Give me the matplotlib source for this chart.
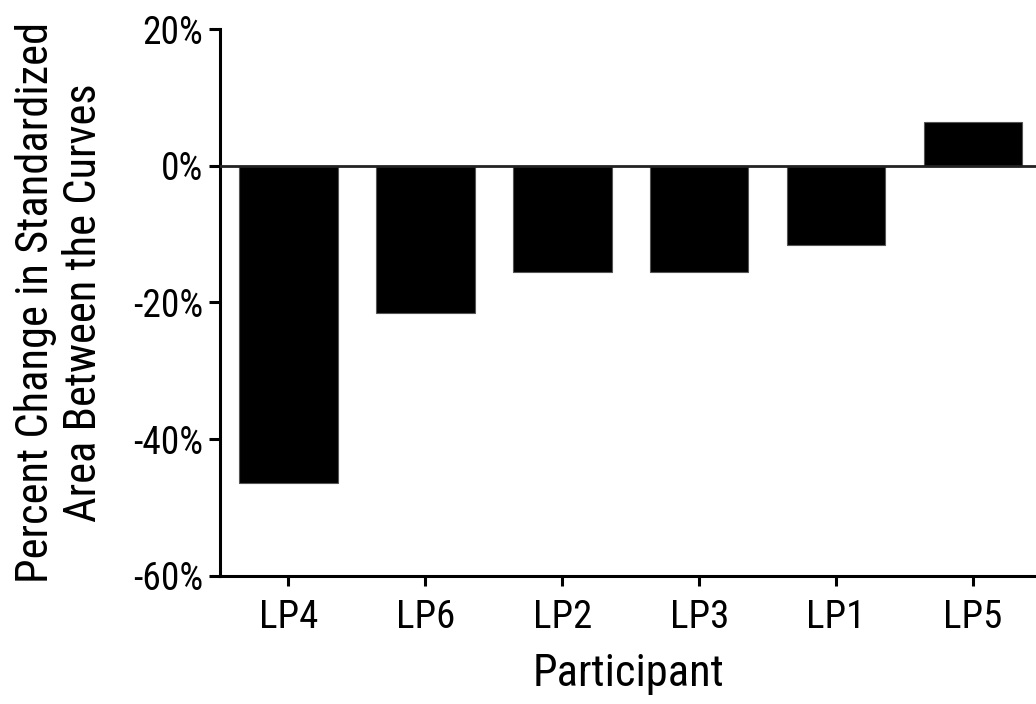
import matplotlib
matplotlib.use("Agg")
import matplotlib.pyplot as plt
from matplotlib.ticker import FuncFormatter

participants = ["LP4", "LP6", "LP2", "LP3", "LP1", "LP5"]
pct_change = [-46.5, -21.5, -15.5, -15.5, -11.6, 6.4]
y_ticks = [-60, -40, -20, 0, 20]

plt.rcParams["font.family"] = ["Roboto Condensed", "Archivo Narrow", "DejaVu Sans"]

fig = plt.figure(figsize=(10.36, 7.04), dpi=100)
ax = fig.add_axes([0.2124, 0.1822, 0.7876, 0.7766])

x = list(range(len(participants)))
ax.bar(x, pct_change, width=0.72, color="black", edgecolor="#555555", linewidth=0.8, zorder=2)
ax.axhline(0, color="#222222", linewidth=2.0, zorder=3)

ax.set_xlim(-0.5, 5.46)
ax.set_ylim(-60, 20)
ax.set_yticks(y_ticks)
ax.yaxis.set_major_formatter(FuncFormatter(lambda v, p: f"{v:.0f}%"))
ax.set_xticks(x)
ax.set_xticklabels(participants)

for side in ("top", "right"):
    ax.spines[side].set_visible(False)
for side in ("left", "bottom"):
    ax.spines[side].set_linewidth(2.2)
    ax.spines[side].set_color("black")

ax.tick_params(axis="y", length=8, width=2.2, labelsize=27, pad=4)
ax.tick_params(axis="x", length=7, width=2.2, labelsize=28, pad=10)

ax.set_xlabel("Participant", fontsize=32, labelpad=12)
ax.set_ylabel("Percent Change in Standardized\nArea Between the Curves", fontsize=32,
              labelpad=20, linespacing=1.2)

fig.savefig("out.png", dpi=100, facecolor="white")
